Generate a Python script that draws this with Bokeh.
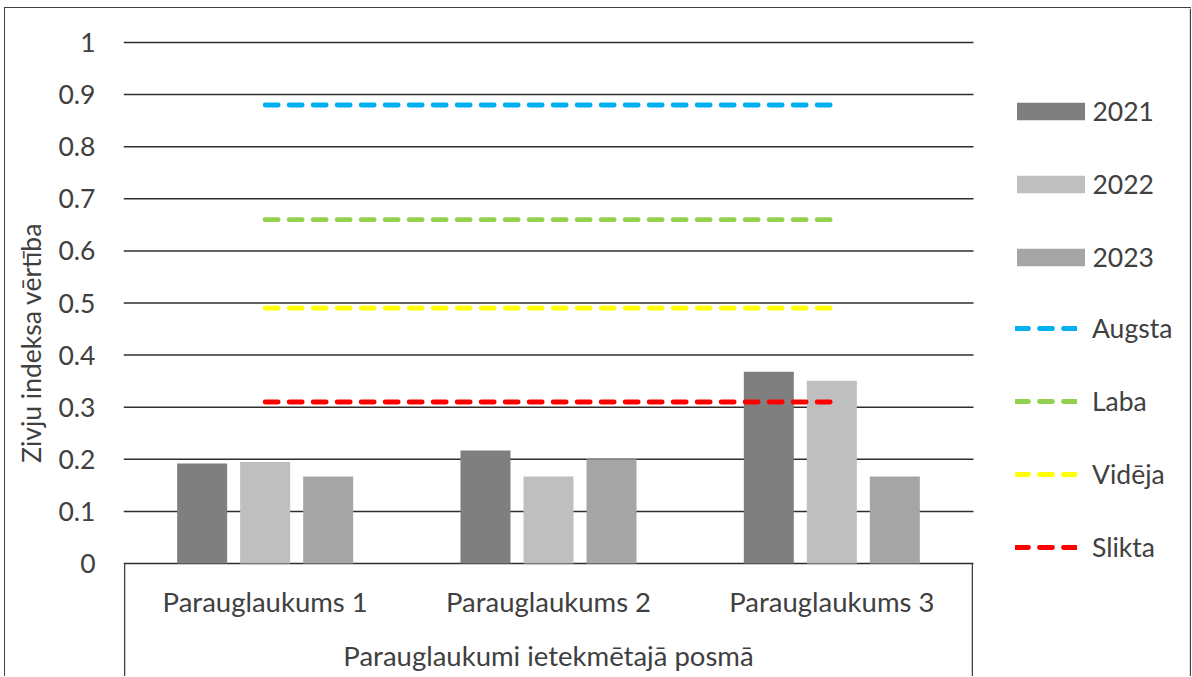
from bokeh.plotting import figure
from bokeh.models import (ColumnDataSource, Range1d, FixedTicker,
                          CustomJSTickFormatter, Legend, LegendItem)
from bokeh.core.properties import value
from bokeh.embed import file_html
from bokeh.resources import INLINE

# ---------------- data ----------------
categories = ["Parauglaukums 1", "Parauglaukums 2", "Parauglaukums 3"]
years = ["2021", "2022", "2023"]
v2021 = [0.192, 0.217, 0.368]
v2022 = [0.195, 0.167, 0.351]
v2023 = [0.167, 0.200, 0.167]
class_names = ["Augsta", "Laba", "Vidēja", "Slikta"]
class_values = [0.88, 0.66, 0.49, 0.31]
y_ticks = [0, 0.1, 0.2, 0.3, 0.4, 0.5, 0.6, 0.7, 0.8, 0.9, 1.0]
x_title = "Parauglaukumi ietekmētajā posmā"
y_title = "Zivju indeksa vērtība"

# ---------------- style / layout ----------------
bar_colors = ["#7F7F7F", "#BFBFBF", "#A5A5A5"]
class_colors = ["#00B0F0", "#92D050", "#FFFF00", "#FF0000"]
FONT = "Lato"
FS = "26.5px"
FS_CAT = "27.5px"
TXT = "#404040"
GRID = "#2E2E2E"
EDGE = "#404040"

OX, OY = 5, 8                 # page position of the canvas (css margin + 1px border)
W, H = 1192 - OX, 677 - OY
PX_X = 850 / 3.0              # px per category
PX_Y = 521.0                  # px per unit of index
X0_PAGE, Y0_PAGE = 123, 563   # page position of x=0 and y=0
x_start, x_end = 0.0, (1192 - X0_PAGE) / PX_X
y_start, y_end = -(677 - Y0_PAGE) / PX_Y, (Y0_PAGE - OY) / PX_Y
n = len(categories)
centers = [i + 0.5 for i in range(n)]

p = figure(width=W, height=H, output_backend="svg", toolbar_location=None,
           x_range=Range1d(x_start, x_end), y_range=Range1d(y_start, y_end),
           x_axis_location=None, y_axis_location="left",
           min_border_left=X0_PAGE - OX, min_border_right=0, min_border_top=0,
           min_border_bottom=0, background_fill_color="white",
           border_fill_color="white", outline_line_color=None)
p.styles = {"margin-left": "4px", "margin-top": "7px",
            "border-left": "1px solid " + EDGE, "border-top": "1px solid " + EDGE}

# y axis
ax = p.yaxis[0]
ax.ticker = FixedTicker(ticks=y_ticks)
ax.formatter = CustomJSTickFormatter(code="return tick.toFixed(1).replace(/\\.0$/, '')")
ax.axis_line_color = None
ax.major_tick_line_color = None
ax.minor_tick_line_color = None
ax.major_tick_out = 0
ax.major_tick_in = 0
ax.major_label_standoff = 28
ax.major_label_text_font = FONT
ax.major_label_text_font_size = FS
ax.major_label_text_color = TXT
ax.axis_label = y_title
ax.axis_label_standoff = 9
ax.axis_label_text_font = FONT
ax.axis_label_text_font_size = FS
ax.axis_label_text_font_style = "normal"
ax.axis_label_text_color = TXT
p.xgrid.visible = False
p.ygrid.visible = False

# horizontal grid lines over the category span
p.segment(x0=[0] * len(y_ticks), x1=[n] * len(y_ticks), y0=y_ticks, y1=y_ticks,
          line_color=GRID, line_width=1.5)

# bars
offsets = [-0.2224, 0.0, 0.2224]
bar_r = []
for vals, off, c in zip([v2021, v2022, v2023], offsets, bar_colors):
    src = ColumnDataSource(dict(x=[cx + off for cx in centers], top=vals))
    r = p.vbar(x="x", top="top", bottom=0, width=0.1765, source=src,
               fill_color=c, line_color=None)
    bar_r.append(r)

# threshold lines
line_r = []
for val, c in zip(class_values, class_colors):
    r = p.line(x=centers, y=[val] * n, line_color=c,
               line_width=4.8, line_dash="13 11", line_cap="round")
    line_r.append(r)

# category box below the axis
p.segment(x0=[0.004, n - 0.004], x1=[0.004, n - 0.004], y0=[0, 0], y1=[y_start, y_start],
          line_color=EDGE, line_width=1.3)
p.text(x=centers, y=[-0.0725] * n, text=categories,
       text_font=value(FONT), text_font_size=FS_CAT, text_color=TXT,
       text_align="center", text_baseline="middle")
p.text(x=[n / 2.0], y=[-0.1760], text=[x_title],
       text_font=value(FONT), text_font_size=FS_CAT, text_color=TXT,
       text_align="center", text_baseline="middle")

# right edge of the chart area
xr = (1190 - X0_PAGE) / PX_X
p.segment(x0=[xr], x1=[xr], y0=[y_start], y1=[y_end], line_color=EDGE, line_width=1.3)

# legends
leg_common = dict(orientation="vertical", padding=0, margin=0,
                  border_line_color=None, background_fill_alpha=0,
                  label_text_font=FONT, label_text_font_size=FS,
                  label_text_color=TXT, label_height=32, spacing=41)
leg_bars = Legend(items=[LegendItem(label=y, renderers=[r]) for y, r in zip(years, bar_r)],
                  location=(884.5, 404), glyph_width=85, glyph_height=22,
                  label_standoff=0, **leg_common)
leg_lines = Legend(items=[LegendItem(label=nm, renderers=[r]) for nm, r in zip(class_names, line_r)],
                   location=(892, 114), glyph_width=62, glyph_height=32,
                   label_standoff=15, **leg_common)
p.add_layout(leg_bars)
p.add_layout(leg_lines)

open("out.html", "w").write(file_html(p, INLINE))
